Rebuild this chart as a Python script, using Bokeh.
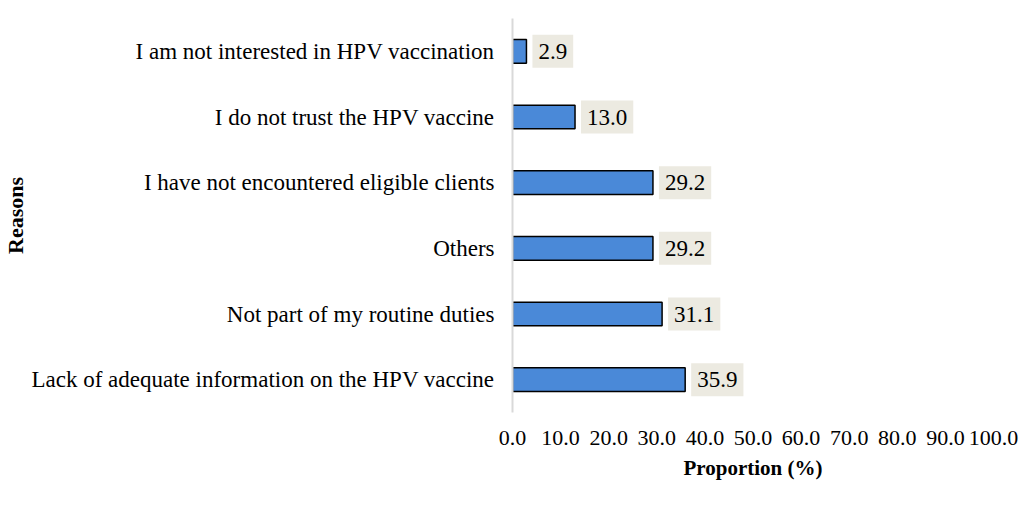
from bokeh.plotting import figure
from bokeh.models import ColumnDataSource, SingleIntervalTicker, NumeralTickFormatter, Range1d
from bokeh.embed import file_html
from bokeh.resources import INLINE

reasons = [
    "Lack of adequate information on the HPV vaccine",
    "Not part of my routine duties",
    "Others",
    "I have not encountered eligible clients",
    "I do not trust the HPV vaccine",
    "I am not interested in HPV vaccination",
]
proportions = [35.9, 31.1, 29.2, 29.2, 13.0, 2.9]

font = "Liberation Serif"

source = ColumnDataSource(data=dict(
    reason=reasons,
    value=proportions,
    label=["{:.1f}".format(v) for v in proportions],
))

p = figure(
    y_range=reasons,
    x_range=Range1d(0, 100),
    width=1020,
    height=499,
    toolbar_location=None,
    tools="",
    output_backend="svg",
    min_border_left=500,
    min_border_right=27,
    min_border_top=18,
    min_border_bottom=87,
    outline_line_color=None,
)

p.hbar(y="reason", right="value", height=0.36, left=0, source=source,
       fill_color="#4a89d8", line_color="black", line_width=1.5)

p.text(x="value", y="reason", text="label", source=source,
       x_offset=6, text_baseline="middle", text_align="left",
       text_font=font, text_font_size="23px", text_color="black",
       background_fill_color="#eceae1", padding=(6, 9))

p.xgrid.grid_line_color = None
p.ygrid.grid_line_color = None
p.y_range.range_padding = 0

p.xaxis.ticker = SingleIntervalTicker(interval=10)
p.xaxis.formatter = NumeralTickFormatter(format="0.0")
p.xaxis.axis_line_color = None
p.xaxis.major_tick_line_color = None
p.xaxis.minor_tick_line_color = None
p.xaxis.major_label_text_font = font
p.xaxis.major_label_text_font_size = "22px"
p.xaxis.major_label_text_color = "black"
p.xaxis.major_label_standoff = 12
p.xaxis.axis_label = "Proportion (%)"
p.xaxis.axis_label_text_font = font
p.xaxis.axis_label_text_font_size = "21px"
p.xaxis.axis_label_text_font_style = "bold"
p.xaxis.axis_label_text_color = "black"
p.xaxis.axis_label_standoff = 8

p.yaxis.axis_line_color = "#d9d9d9"
p.yaxis.axis_line_width = 2
p.yaxis.major_tick_line_color = None
p.yaxis.minor_tick_line_color = None
p.yaxis.major_label_text_font = font
p.yaxis.major_label_text_font_size = "23px"
p.yaxis.major_label_text_color = "black"
p.yaxis.major_label_standoff = 12
p.yaxis.axis_label = "Reasons"
p.yaxis.axis_label_text_font = font
p.yaxis.axis_label_text_font_size = "22px"
p.yaxis.axis_label_text_font_style = "bold"
p.yaxis.axis_label_text_color = "black"
p.yaxis.axis_label_standoff = 0

open("out.html", "w").write(file_html(p, INLINE))
